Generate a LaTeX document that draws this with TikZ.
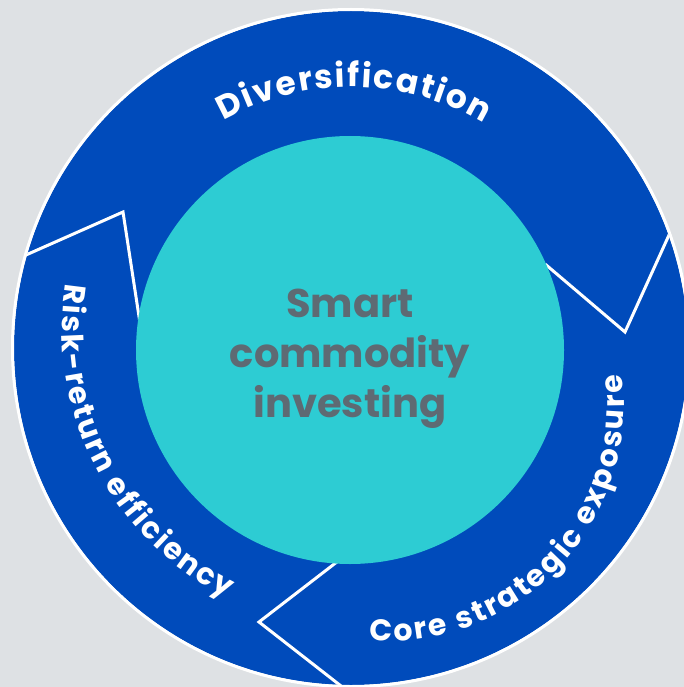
\documentclass[tikz,border=0pt]{standalone}
\usepackage{fontspec}
\setmainfont{Poppins}
\usetikzlibrary{decorations.text}
\definecolor{bggray}{HTML}{DEE1E4}
\definecolor{ringblue}{HTML}{004BBB}
\definecolor{hubteal}{HTML}{2DCCD3}
\definecolor{hubgray}{HTML}{5E6A73}
\newcommand\arcfont{\fontsize{33}{40}\selectfont\bfseries}
\newcommand\arcfontb{\fontsize{30}{40}\selectfont\bfseries}
\newcommand\arcfontc{\fontsize{30}{40}\selectfont\bfseries}
\begin{document}
\begin{tikzpicture}[x=1pt,y=1pt,
  divider/.style={white, line width=3pt, line join=miter},
  arctext/.style 2 args={decorate, decoration={text along path, text color=white, text align={fit to path}, text={|#1|#2}}}]
\useasboundingbox (0,0) rectangle (684,-687);
\fill[bggray] (0,0) rectangle (684,-687);
\coordinate (O) at (351,-348);
\coordinate (I) at (350,-350);
\fill[ringblue] (O) circle[radius=337];
% dividers
\coordinate (d1o) at (16,-259.4);
\coordinate (d1a) at (123,-212);
\coordinate (d1i) at (140,-323);
\coordinate (d2o) at (674,-224);
\coordinate (d2a) at (625,-332);
\coordinate (d2i) at (545,-264);
\coordinate (d3i) at (342,-558);
\coordinate (d3a) at (259,-622);
\coordinate (d3o) at (350,-693);
\begin{scope}
\clip (O) circle[radius=337];
\draw[divider] (d1o) -- (d1a) -- (d1i);
\draw[divider] (d2o) -- (d2a) -- (d2i);
\draw[divider] (d3o) -- (d3a) -- (d3i);
\end{scope}
\fill[hubteal] (I) circle[radius=214];
\draw[white, line width=3pt] (O) circle[radius=338.5];
% arc texts
\path[arctext={\arcfont}{Diversification}] ([shift={(119.3:261)}]O) arc[start angle=119.3, end angle=59.3, radius=261];
\coordinate (Orr) at (361,-330);
\path[arctext={\arcfontb}{Risk-return efficiency}] ([shift={(171:299)}]Orr) arc[start angle=171, end angle=243.5, radius=299];
\coordinate (Ocs) at (388,-405);
\path[arctext={\arcfontc}{Core strategic exposure}] ([shift={(-94.5:236)}]Ocs) arc[start angle=-94.5, end angle=7.5, radius=236];
% hub text
\node[font=\fontsize{40}{50}\selectfont\bfseries, text=hubgray, align=center, anchor=base] (hub) at (350,-417) {Smart\\commodity\\investing};
\end{tikzpicture}
\end{document}
